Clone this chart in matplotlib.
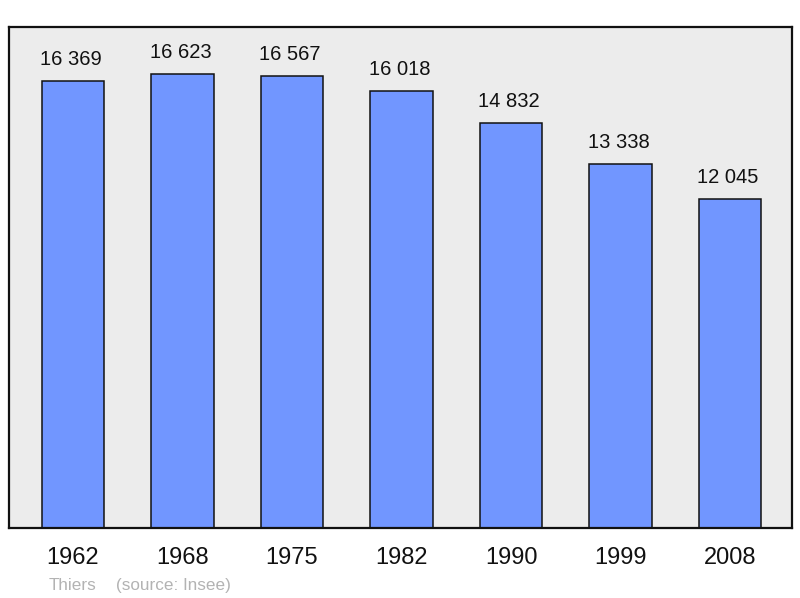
import matplotlib
matplotlib.use("Agg")
import matplotlib.pyplot as plt

years = ["1962", "1968", "1975", "1982", "1990", "1999", "2008"]
population = [16369, 16623, 16567, 16018, 14832, 13338, 12045]
value_labels = ["16 369", "16 623", "16 567", "16 018", "14 832", "13 338", "12 045"]
source_town = "Thiers"
source_text = "(source: Insee)"

plt.rcParams['font.family'] = ['Liberation Sans', 'DejaVu Sans']

fig = plt.figure(figsize=(8, 5.98), dpi=100)
ax = fig.add_axes([0.011, 0.117, 0.979, 0.838])
ax.set_facecolor('#ececec')

x = list(range(len(years)))
ax.bar(x, population, width=0.57, color='#7196ff', edgecolor='#111111', linewidth=1.1, zorder=2)
for xi, v, lab in zip(x, population, value_labels):
    ax.annotate(lab, (xi, v), xytext=(-1.5, 8.5), textcoords='offset points',
                ha='center', va='bottom', fontsize=14.5, color='#111111')

ax.set_xlim(-0.585, 6.565)
ax.set_ylim(0, 18350)
ax.set_xticks(x)
ax.set_xticklabels(years, fontsize=17, color='#111111')
ax.tick_params(axis='x', length=0, pad=14)
ax.set_yticks([])
for s in ax.spines.values():
    s.set_linewidth(1.6)
    s.set_color('#111111')

fig.text(0.061, 0.014, source_town, fontsize=12.3, color='#b3b3b3', ha='left', va='baseline')
fig.text(0.145, 0.014, source_text, fontsize=12.3, color='#b3b3b3', ha='left', va='baseline')

fig.savefig('out.png', dpi=100)
